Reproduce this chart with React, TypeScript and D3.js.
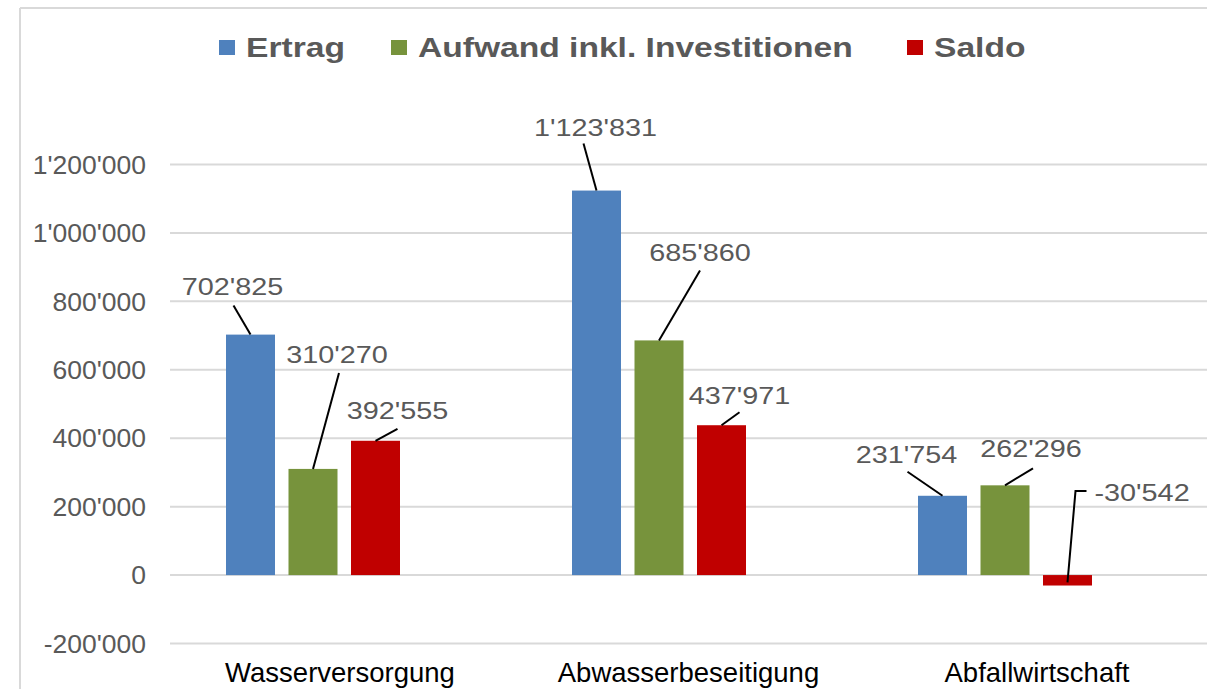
import * as d3 from 'd3';
import React from 'react';

// chart values
const categories = ['Wasserversorgung', 'Abwasserbeseitigung', 'Abfallwirtschaft'];
const seriesNames = ['Ertrag', 'Aufwand inkl. Investitionen', 'Saldo'];
const seriesColors = ['#4f81bd', '#77933c', '#c00000'];
const ertrag = [702825, 1123831, 231754];
const aufwand = [310270, 685860, 262296];
const saldo = [392555, 437971, -30542];
const yTickValues = [-200000, 0, 200000, 400000, 600000, 800000, 1000000, 1200000];

// where each data label sits relative to its bar: [text dx, text dy, leader dx, leader dy]
const labelOffsets = [
  [[-18, -48, -17, -29], [24, -114, 26, -96], [22, -30, 22, -12]],
  [[-1, -63, -13, -47], [41, -88, 41, -70], [18, -30, 18, -13]],
  [[-36, -41, -35, -24], [26, -37, 28, -17], [27, -82, 19, -84]],
];

const W = 1207;
const H = 689;
const FONT = '"Liberation Sans", Arial, sans-serif';
const TEXT = '#595959';
const GRID = '#d9d9d9';
const SX = 1.2; // data labels and legend are stretched sideways

const fmt = d3.formatLocale({ decimal: '.', thousands: "'", grouping: [3], currency: ['', ''], minus: '-' }).format(',d');

export default function App() {
  const values = [ertrag, aufwand, saldo];

  const x0 = d3.scaleBand<string>().domain(categories).range([140, 1178]).paddingInner(0).paddingOuter(0);
  const x1 = d3.scaleBand<string>().domain(seriesNames).range([0, 174]).paddingInner(0.216);
  const xLabel = d3.scalePoint<string>().domain(categories).range([340, 1037]);
  const y = d3.scaleLinear().domain([-200000, 1200000]).range([643.5, 164.5]);

  const groupOffset = (x0.bandwidth() - 174) / 2;

  return (
    <svg width={W} height={H} style={{ position: 'absolute', left: 0, top: 0, background: '#fff' }} fontFamily={FONT}>
      <rect x={0} y={0} width={W} height={H} fill="#fff" />
      {/* frame */}
      <line x1={20} x2={W} y1={8} y2={8} stroke={GRID} strokeWidth={2} />
      <line x1={20} x2={20} y1={8} y2={H} stroke={GRID} strokeWidth={2} />

      {/* grid and y labels */}
      {yTickValues.map(t => (
        <g key={t}>
          <line x1={170} x2={W} y1={y(t)} y2={y(t)} stroke={GRID} strokeWidth={2} />
          <text x={146} y={y(t)} dy="0.35em" textAnchor="end" fontSize={26.5} fill={TEXT}>{fmt(t)}</text>
        </g>
      ))}

      {/* bars */}
      {categories.map((c, ci) => (
        <g key={c} transform={`translate(${x0(c)! + groupOffset},0)`}>
          {seriesNames.map((s, si) => {
            const v = values[si][ci];
            return (
              <rect key={s} x={x1(s)} width={x1.bandwidth()} y={y(Math.max(0, v))}
                height={Math.abs(y(v) - y(0))} fill={seriesColors[si]} />
            );
          })}
        </g>
      ))}

      {/* data labels with leader lines */}
      {categories.map((c, ci) => seriesNames.map((s, si) => {
        const v = values[si][ci];
        const cx = x0(c)! + groupOffset + x1(s)! + x1.bandwidth() / 2;
        const top = y(Math.max(0, v));
        const [tdx, tdy, ldx, ldy] = labelOffsets[ci][si];
        if (v < 0) {
          const mid = y(v / 2);
          const path = d3.path();
          path.moveTo(cx, mid + 2);
          path.lineTo(cx + 8, top + ldy);
          path.lineTo(cx + ldx, top + ldy);
          return (
            <g key={c + s}>
              <path d={path.toString()} fill="none" stroke="#000" strokeWidth={2} />
              <text transform={`translate(${cx + tdx},${top + tdy}) scale(${SX},1)`} dy="0.35em"
                textAnchor="start" fontSize={24} fill={TEXT}>{fmt(v)}</text>
            </g>
          );
        }
        return (
          <g key={c + s}>
            <line x1={cx} y1={top} x2={cx + ldx} y2={top + ldy} stroke="#000" strokeWidth={2} />
            <text transform={`translate(${cx + tdx},${top + tdy}) scale(${SX},1)`} dy="0.35em"
              textAnchor="middle" fontSize={24} fill={TEXT}>{fmt(v)}</text>
          </g>
        );
      }))}

      {/* category labels */}
      {categories.map(c => (
        <text key={c} x={xLabel(c)} y={682} textAnchor="middle" fontSize={27.5} fill="#000">{c}</text>
      ))}

      {/* legend */}
      {[219, 391, 907].map((lx, i) => (
        <g key={seriesNames[i]}>
          <rect x={lx} y={40} width={16} height={15} fill={seriesColors[i]} />
          <text transform={`translate(${lx + 27},${57}) scale(${SX},1)`} fontSize={28} fontWeight="bold"
            fill={TEXT}>{seriesNames[i]}</text>
        </g>
      ))}
    </svg>
  );
}
